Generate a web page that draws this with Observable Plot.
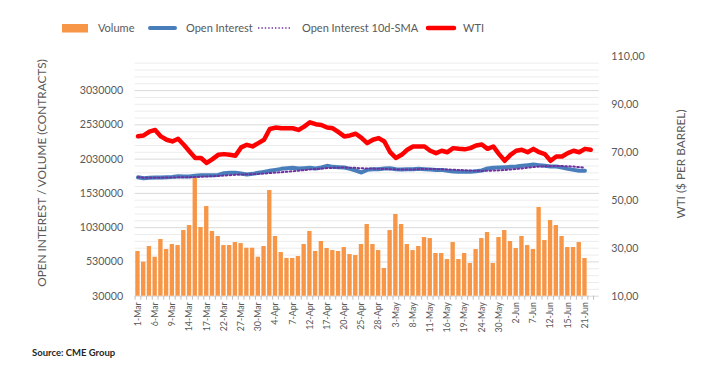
<!DOCTYPE html>
<html>
<head>
<meta charset="utf-8">
<script src="https://cdn.jsdelivr.net/npm/d3@7"></script>
<script src="https://cdn.jsdelivr.net/npm/@observablehq/plot@0.6"></script>
<style>
  body { margin: 0; background: #fff; font-family: Lato, "Open Sans", sans-serif; }
  #wrap { position: relative; width: 707px; height: 385px; overflow: hidden; }
  #wrap svg.plot { position: absolute; left: 0; top: 0; }
  .lg { position: absolute; font-size: 11px; line-height: 14px; color: #595959; white-space: nowrap; }
  .sw { position: absolute; }
  .ttl { position: absolute; font-size: 11.8px; line-height: 13px; color: #595959; white-space: nowrap; transform: translate(-50%, -50%) rotate(-90deg); }
  #source { position: absolute; left: 32px; top: 347px; font-size: 9.5px; font-weight: 700; color: #262626; line-height: 12px; }
</style>
</head>
<body>
<div id="wrap"></div>
<script>
// ---- data ----
const dates = [
  "1-Mar","2-Mar","3-Mar","6-Mar","7-Mar","8-Mar","9-Mar","10-Mar","13-Mar","14-Mar","15-Mar","16-Mar","17-Mar","20-Mar","21-Mar","22-Mar","23-Mar","24-Mar","27-Mar","28-Mar","29-Mar","30-Mar","31-Mar",
  "3-Apr","4-Apr","5-Apr","6-Apr","7-Apr","10-Apr","11-Apr","12-Apr","13-Apr","14-Apr","17-Apr","18-Apr","19-Apr","20-Apr","21-Apr","24-Apr","25-Apr","26-Apr","27-Apr","28-Apr",
  "1-May","2-May","3-May","4-May","5-May","8-May","9-May","10-May","11-May","12-May","15-May","16-May","17-May","18-May","19-May","22-May","23-May","24-May","25-May","26-May","30-May","31-May",
  "1-Jun","2-Jun","5-Jun","6-Jun","7-Jun","8-Jun","9-Jun","12-Jun","13-Jun","14-Jun","15-Jun","16-Jun","20-Jun","21-Jun","22-Jun","23-Jun"
];
const volume = [
  682000,526000,755000,599000,857000,711000,784000,769000,988000,1061000,1752000,1032000,1338000,974000,901000,769000,769000,813000,798000,730000,
  730000,599000,755000,1572000,901000,667000,580000,580000,609000,784000,974000,682000,828000,726000,696000,682000,740000,638000,623000,784000,
  1076000,784000,696000,434000,988000,1222000,1076000,784000,696000,755000,886000,871000,653000,653000,565000,813000,565000,653000,507000,711000,
  871000,959000,507000,886000,988000,828000,726000,901000,769000,711000,1324000,842000,1134000,1061000,901000,740000,740000,813000,580000
];
const openInterest = [
  1766000,1752000,1757000,1762000,1762000,1766000,1771000,1781000,1776000,1776000,1786000,1796000,1796000,1796000,1800000,1825000,1830000,1830000,1820000,1805000,
  1815000,1830000,1844000,1859000,1873000,1888000,1898000,1903000,1893000,1898000,1903000,1893000,1908000,1932000,1917000,1912000,1908000,1888000,1864000,1835000,
  1873000,1883000,1883000,1893000,1898000,1883000,1878000,1883000,1883000,1888000,1883000,1878000,1873000,1873000,1859000,1849000,1844000,1844000,1844000,1854000,
  1864000,1893000,1903000,1908000,1912000,1917000,1922000,1932000,1942000,1951000,1942000,1932000,1922000,1922000,1908000,1888000,1873000,1859000,1859000
];
const wti = [
  76.9,77.2,78.8,79.5,76.8,75.4,74.7,75.8,73.3,70.5,67.8,67.8,65.7,67.3,69.1,69.4,69.1,68.7,72.2,73.3,
  72.6,74.0,75.4,79.9,80.5,80.2,80.2,80.2,79.5,80.9,82.7,81.9,81.6,80.5,80.2,78.6,76.8,77.2,77.9,76.2,
  74.0,75.4,76.1,74.7,70.2,67.8,69.1,71.2,72.6,72.6,72.6,70.8,69.8,70.8,70.2,71.9,71.6,71.4,71.9,73.0,
  73.4,71.6,72.6,69.4,66.6,69.1,70.8,71.2,70.2,71.6,70.2,69.4,66.6,68.4,68.4,69.8,70.8,70.2,71.6,71.2
];
const leftTicks = [30000, 530000, 1030000, 1530000, 2030000, 2530000, 3030000];
const wtiTicks = [10, 30, 50, 70, 90, 110];
const seriesNames = ["Volume", "Open Interest", "Open Interest 10d-SMA", "WTI"];
const leftTitle = "OPEN INTEREST / VOLUME (CONTRACTS)";
const rightTitle = "WTI ($ PER BARREL)";
const sourceText = "Source: CME Group";

// ---- build ----
const colors = { vol: "#F79646", oi: "#4A7EBB", sma: "#7030A0", wti: "#FF0000" };
const Y0 = 30000, Y1 = 3520000, W0 = 10, W1 = 110;
const toLeft = w => Y0 + (w - W0) * (Y1 - Y0) / (W1 - W0);
const fromLeft = y => W0 + (y - Y0) * (W1 - W0) / (Y1 - Y0);

const rows = dates.map((d, i) => ({ date: d, vol: volume[i], oi: openInterest[i], wti: wti[i] }));
const volRows = rows.filter(r => r.vol != null);
const oiRows = rows.filter(r => r.oi != null);
const wtiRows = rows.filter(r => r.wti != null);

const minorTicks = d3.range(130000, 3500000, 100000).filter(v => !leftTicks.includes(v));

const mL = 134.6, mR = 108.2, mT = 56.5, mB = 89.3, W = 707, H = 385;
const step = (W - mL - mR) / dates.length;

const chart = Plot.plot({
  width: W, height: H,
  marginTop: mT, marginBottom: mB, marginLeft: mL, marginRight: mR,
  style: { fontFamily: "Lato, 'Open Sans', sans-serif", color: "#595959", background: "transparent", overflow: "visible" },
  x: { type: "band", domain: dates, paddingInner: 0.24, paddingOuter: 0.12, axis: null },
  y: { domain: [Y0, Y1], axis: null },
  marks: [
    Plot.ruleY(minorTicks, { stroke: "#ececec", strokeWidth: 1 }),
    Plot.ruleY(leftTicks, { stroke: "#d9d9d9", strokeWidth: 1 }),
    Plot.barY(volRows, { x: "date", y1: Y0, y2: "vol", fill: colors.vol }),
    Plot.line(oiRows, { x: "date", y: "oi", stroke: colors.oi, strokeWidth: 4, strokeLinejoin: "round", strokeLinecap: "round" }),
    Plot.line(oiRows, Plot.windowY({ k: 10, anchor: "end", reduce: "mean" },
      { x: "date", y: "oi", stroke: colors.sma, strokeWidth: 2, strokeDasharray: "1.6,2.4" })),
    Plot.line(wtiRows, { x: "date", y: r => toLeft(r.wti), stroke: colors.wti, strokeWidth: 4.5, strokeLinejoin: "round", strokeLinecap: "round" }),
    Plot.axisY({ anchor: "left", ticks: leftTicks, tickFormat: d => String(d), tickSize: 0, tickPadding: 12, fontSize: 10.7, label: null }),
    Plot.axisY({ anchor: "right", ticks: wtiTicks.map(toLeft), tickFormat: v => fromLeft(v).toFixed(2).replace(".", ","), tickSize: 0, tickPadding: 12, fontSize: 10.7, label: null }),
    Plot.axisX({ ticks: dates.filter((d, i) => i % 3 === 0), tickRotate: -90, tickSize: 0, tickPadding: 6, fontSize: 8.8, label: null }),
    Plot.axisX({ ticks: dates, tickSize: 4, tickFormat: () => "", dx: -step / 2, stroke: "#bfbfbf", label: null })
  ]
});
chart.classList.add("plot");
const wrap = document.getElementById("wrap");
wrap.appendChild(chart);

// ---- axis titles ----
function addTitle(text, cx, cy) {
  const d = document.createElement("div");
  d.className = "ttl";
  d.textContent = text;
  d.style.left = cx + "px";
  d.style.top = cy + "px";
  wrap.appendChild(d);
}
addTitle(leftTitle, 41, 173);
addTitle(rightTitle, 680, 164);

// ---- legend (HTML above the plot) ----
function addSwatch(kind, left, width, color) {
  const s = document.createElementNS("http://www.w3.org/2000/svg", "svg");
  s.setAttribute("class", "sw");
  s.setAttribute("width", width + 6);
  s.setAttribute("height", 12);
  s.style.left = (left - 3) + "px";
  s.style.top = "21.5px";
  let el;
  if (kind === "rect") {
    el = document.createElementNS(s.namespaceURI, "rect");
    el.setAttribute("x", 3); el.setAttribute("y", 2); el.setAttribute("width", width); el.setAttribute("height", 8.5);
    el.setAttribute("fill", color);
  } else {
    el = document.createElementNS(s.namespaceURI, "line");
    el.setAttribute("x1", 3); el.setAttribute("x2", 3 + width); el.setAttribute("y1", 6); el.setAttribute("y2", 6);
    el.setAttribute("stroke", color);
    if (kind === "dot") { el.setAttribute("stroke-width", 1.6); el.setAttribute("stroke-dasharray", "1.4,2"); }
    else { el.setAttribute("stroke-width", kind === "thick" ? 4.5 : 4); el.setAttribute("stroke-linecap", "round"); }
  }
  s.appendChild(el);
  wrap.appendChild(s);
}
function addLabel(text, left) {
  const d = document.createElement("div");
  d.className = "lg";
  d.textContent = text;
  d.style.left = left + "px";
  d.style.top = "20.5px";
  wrap.appendChild(d);
}
addSwatch("rect", 62, 26, colors.vol);      addLabel(seriesNames[0], 98);
addSwatch("line", 150, 25, colors.oi);      addLabel(seriesNames[1], 186);
addSwatch("dot", 258, 32, colors.sma);      addLabel(seriesNames[2], 302);
addSwatch("thick", 428, 26, colors.wti);    addLabel(seriesNames[3], 463);

const src = document.createElement("div");
src.id = "source";
src.textContent = sourceText;
wrap.appendChild(src);
</script>
</body>
</html>
